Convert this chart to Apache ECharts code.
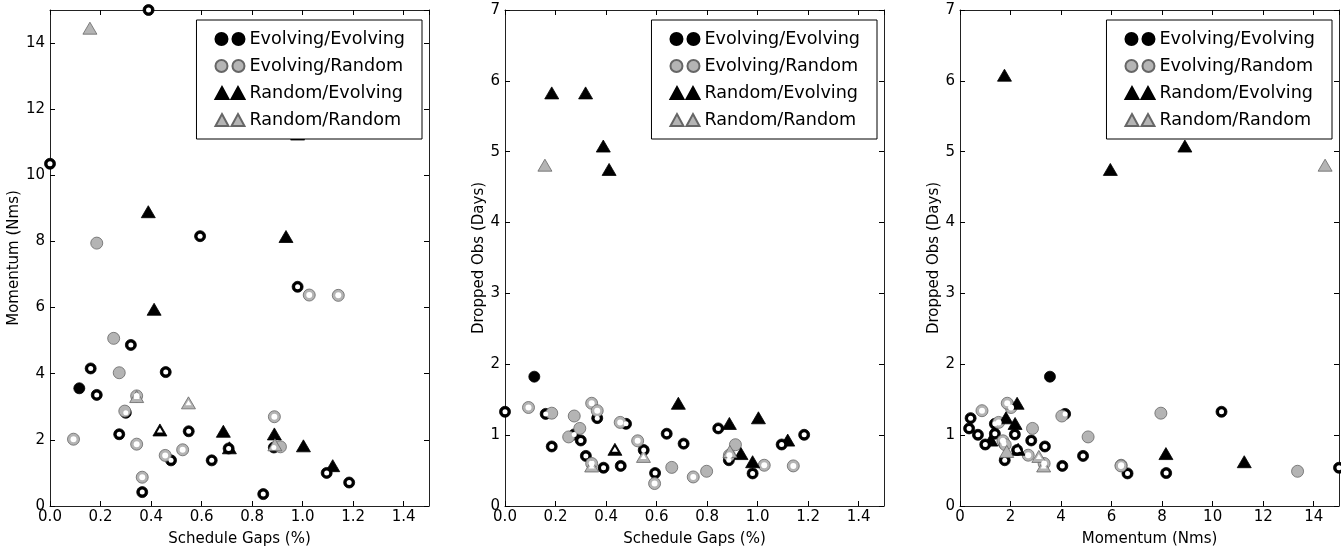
<!DOCTYPE html>
<html>
<head>
<meta charset="utf-8">
<title>Schedule gaps / momentum / dropped obs</title>
<script src="https://cdn.jsdelivr.net/npm/echarts@6.0.0/dist/echarts.min.js"></script>
<style>
  html, body { margin: 0; padding: 0; background: #fff; }
  #chart { width: 1341px; height: 548px; }
</style>
</head>
<body>
<div id="chart"></div>
<script>
// legend names
var seriesNames = ['Evolving/Evolving', 'Evolving/Random', 'Random/Evolving', 'Random/Random'];

// one entry per run: schedule gap (%), momentum (Nms), dropped obs (days), white-centre flag
// null momentum = off the 0-15 scale
var evoEvoGap  = [0.0, 0.116, 0.161, 0.185, 0.274, 0.30, 0.32, 0.365, 0.39, 0.458, 0.479, 0.549, 0.594, 0.64, 0.707, 0.844, 0.886, 0.98, 1.095, 1.184];
var evoEvoMom  = [10.35, 3.56, 4.16, 3.36, 2.17, 2.82, 4.87, 0.42, 15.0, 4.05, 1.38, 2.26, 8.16, 1.38, 1.74, 0.36, 1.77, 6.63, 1.0, 0.71];
var evoEvoDrop = [1.33, 1.825, 1.30, 0.84, 1.01, 0.925, 0.707, 1.24, 0.54, 0.566, 1.16, 0.79, 0.465, 1.02, 0.88, 1.095, 0.646, 0.46, 0.868, 1.005];
var evoEvoDot  = [1, 0, 1, 1, 1, 1, 1, 1, 1, 1, 1, 1, 1, 1, 1, 1, 1, 1, 1, 1];

var evoRandGap  = [0.093, 0.185, 0.252, 0.274, 0.296, 0.343, 0.343, 0.365, 0.456, 0.525, 0.592, 0.66, 0.745, 0.798, 0.888, 0.912, 1.026, 1.141];
var evoRandMom  = [2.02, 7.95, 5.07, 4.03, 2.87, 3.33, 1.87, 0.87, 1.53, 1.70, null, null, null, 13.36, 2.70, 1.79, 6.38, 6.37];
var evoRandDrop = [1.39, 1.31, 0.975, 1.27, 1.095, 0.60, 1.45, 1.345, 1.18, 0.92, 0.317, 0.545, 0.41, 0.49, 0.717, 0.865, 0.575, 0.566];
var evoRandDot  = [1, 0, 0, 0, 0, 1, 1, 1, 1, 1, 1, 0, 1, 0, 1, 0, 1, 1];

var randEvoGap  = [0.185, 0.319, 0.389, 0.412, 0.435, 0.686, 0.71, 0.888, 0.934, 0.98, 1.003, 1.119];
var randEvoMom  = [null, null, 8.90, 5.95, 2.30, 2.26, 1.76, 2.18, 8.15, 11.25, 1.82, 1.22];
var randEvoDrop = [5.83, 5.83, 5.08, 4.75, 0.80, 1.45, 6.08, 1.165, 0.74, 0.625, 1.245, 0.93];
var randEvoDot  = [0, 0, 0, 0, 1, 0, 0, 0, 0, 0, 0, 0];

var randRandGap  = [0.158, 0.343, 0.548, 0.89];
var randRandMom  = [14.45, 3.31, 3.12, 1.85];
var randRandDrop = [4.81, 0.565, 0.70, 0.77];
var randRandDot  = [0, 1, 1, 0];

var groups = [
    {name: seriesNames[0], gap: evoEvoGap, mom: evoEvoMom, drop: evoEvoDrop, dot: evoEvoDot,
     symbol: 'circle', size: 11, dotSize: 5, color: '#000', edge: '#000'},
    {name: seriesNames[1], gap: evoRandGap, mom: evoRandMom, drop: evoRandDrop, dot: evoRandDot,
     symbol: 'circle', size: 12, dotSize: 6, color: '#b4b4b4', edge: '#666'},
    {name: seriesNames[2], gap: randEvoGap, mom: randEvoMom, drop: randEvoDrop, dot: randEvoDot,
     symbol: 'triangle', size: [14, 12], dotSize: [6, 5], color: '#000', edge: '#000'},
    {name: seriesNames[3], gap: randRandGap, mom: randRandMom, drop: randRandDrop, dot: randRandDot,
     symbol: 'triangle', size: [14, 12], dotSize: [6, 5], color: '#b4b4b4', edge: '#666'}
];

var circleIcon = 'path://M0,6 A6,6 0 1,1 12,6 A6,6 0 1,1 0,6 Z M17,6 A6,6 0 1,1 29,6 A6,6 0 1,1 17,6 Z';
var triIcon = 'path://M6.5,0 L13,12 L0,12 Z M22.5,0 L29,12 L16,12 Z';

var panels = [
    {x: 'gap', y: 'mom', left: 50, xMax: 1.5, xInt: 0.2, yMax: 15, yInt: 2,
     xName: 'Schedule Gaps (%)', yName: 'Momentum (Nms)', yNameGap: 24, legendRight: 919},
    {x: 'gap', y: 'drop', left: 505, xMax: 1.5, xInt: 0.2, yMax: 7, yInt: 1,
     xName: 'Schedule Gaps (%)', yName: 'Dropped Obs (Days)', yNameGap: 13, legendRight: 464},
    {x: 'mom', y: 'drop', left: 960, xMax: 15, xInt: 2, yMax: 7, yInt: 1,
     xName: 'Momentum (Nms)', yName: 'Dropped Obs (Days)', yNameGap: 16, legendRight: 9}
];

function points(g, xKey, yKey, dotsOnly) {
    var out = [];
    for (var i = 0; i < g.gap.length; i++) {
        var xv = g[xKey][i], yv = g[yKey][i];
        if (xv === null || yv === null) continue;
        if (dotsOnly && !g.dot[i]) continue;
        out.push([xv, yv]);
    }
    return out;
}

function fmt(isGap) {
    return function (v) { return isGap ? v.toFixed(1) : String(Math.round(v)); };
}

var grids = [], xAxes = [], yAxes = [], series = [], legends = [];
var tickStyle = {inside: true, length: 5, lineStyle: {color: '#000', width: 1}};
var lineStyle = {show: true, onZero: false, lineStyle: {color: '#222', width: 1}};

panels.forEach(function (p, pi) {
    // fixed plot box, labels may run to the page edge
    grids.push({left: p.left, top: 10, width: 379, height: 496, outerBoundsMode: 'none', containLabel: false});

    var xBase = {type: 'value', gridIndex: pi, min: 0, max: p.xMax, interval: p.xInt,
                 axisLine: lineStyle, axisTick: tickStyle, splitLine: {show: false}};
    var yBase = {type: 'value', gridIndex: pi, min: 0, max: p.yMax, interval: p.yInt,
                 axisLine: lineStyle, axisTick: tickStyle, splitLine: {show: false}};

    xAxes.push(Object.assign({}, xBase, {
        position: 'bottom',
        name: p.xName, nameLocation: 'middle', nameGap: 26,
        nameTextStyle: {fontSize: 15, color: '#000'},
        axisLabel: {fontSize: 15, color: '#000', margin: 4, showMinLabel: true,
                    showMaxLabel: p.xMax % p.xInt === 0, formatter: fmt(p.x === 'gap')}
    }));
    xAxes.push(Object.assign({}, xBase, {position: 'top', axisLabel: {show: false}}));

    yAxes.push(Object.assign({}, yBase, {
        position: 'left',
        name: p.yName, nameLocation: 'middle', nameGap: p.yNameGap,
        nameTextStyle: {fontSize: 15, color: '#000'},
        axisLabel: {fontSize: 15, color: '#000', margin: 5, showMinLabel: true,
                    showMaxLabel: p.yMax % p.yInt === 0, formatter: fmt(false)}
    }));
    yAxes.push(Object.assign({}, yBase, {position: 'right', axisLabel: {show: false}}));

    // filled markers first
    groups.forEach(function (g) {
        series.push({
            type: 'scatter', name: g.name, xAxisIndex: pi * 2, yAxisIndex: pi * 2,
            data: points(g, p.x, p.y, false), symbol: g.symbol, symbolSize: g.size,
            itemStyle: {color: g.color, borderColor: g.edge, borderWidth: 0.8, opacity: 1},
            clip: true, silent: true, z: 2
        });
    });
    // white centres on top of everything
    groups.forEach(function (g) {
        series.push({
            type: 'scatter', name: g.name + ' centre', xAxisIndex: pi * 2, yAxisIndex: pi * 2,
            data: points(g, p.x, p.y, true), symbol: g.symbol, symbolSize: g.dotSize,
            itemStyle: {color: '#fff', opacity: 1},
            clip: true, silent: true, z: 3
        });
    });

    legends.push({
        orient: 'vertical', right: p.legendRight, top: 20,
        backgroundColor: '#fff', borderColor: '#000', borderWidth: 1,
        padding: [9, 17, 9, 18], itemGap: 7, itemWidth: 29, itemHeight: 12,
        selectedMode: false,
        textStyle: {fontSize: 17.6, lineHeight: 20, color: '#000'},
        data: groups.map(function (g) {
            return {name: g.name, icon: g.symbol === 'circle' ? circleIcon : triIcon};
        })
    });
});

var chart = echarts.init(document.getElementById('chart'));
chart.setOption({
    animation: false,
    backgroundColor: '#fff',
    textStyle: {fontFamily: 'DejaVu Sans'},
    grid: grids,
    xAxis: xAxes,
    yAxis: yAxes,
    legend: legends,
    series: series
});
</script>
</body>
</html>
